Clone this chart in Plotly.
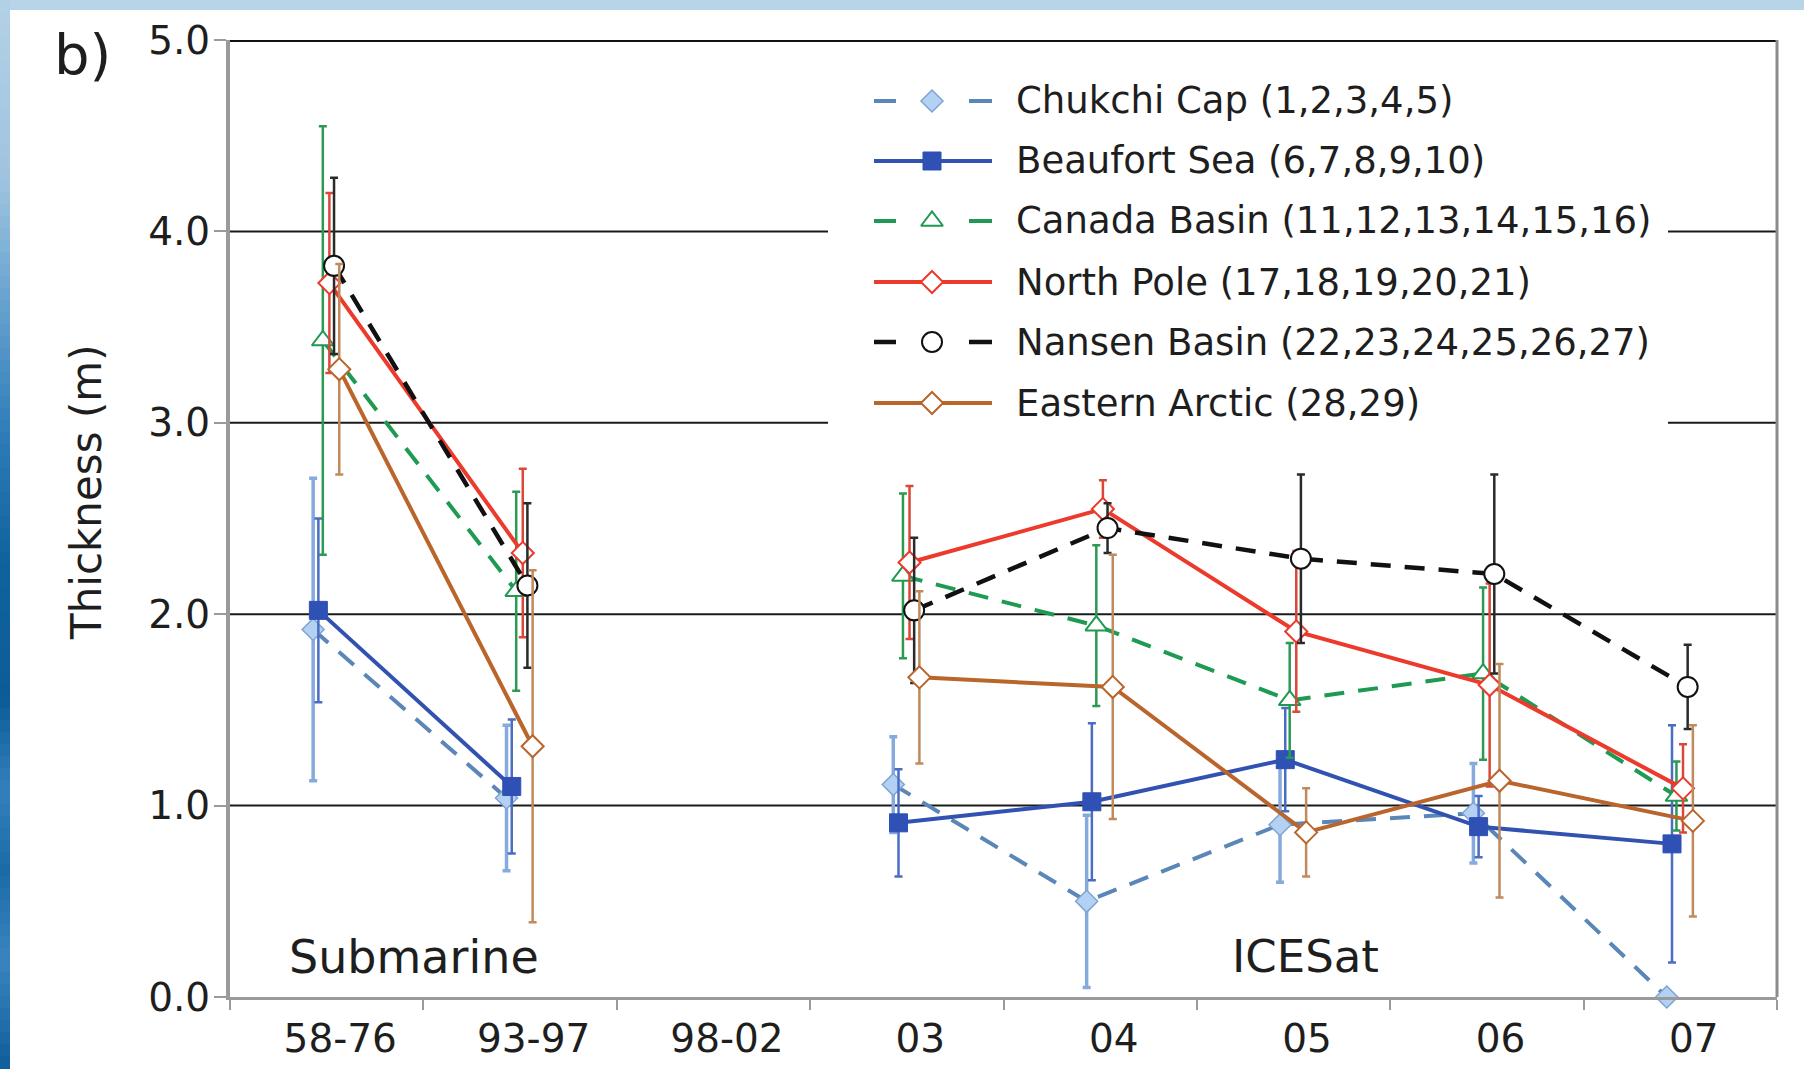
import plotly.graph_objects as go

# ---------------------------------------------------------------------------
# Mean sea-ice thickness by region (metres) with one-sigma spread
# ---------------------------------------------------------------------------
categories = ["58-76", "93-97", "98-02", "03", "04", "05", "06", "07"]

chukchi_cap = [1.92, 1.04, None, 1.11, 0.50, 0.90, 0.96, 0.00]
chukchi_cap_err = [0.79, 0.38, None, 0.25, 0.45, 0.30, 0.26, None]

beaufort_sea = [2.02, 1.10, None, 0.91, 1.02, 1.24, 0.89, 0.80]
beaufort_sea_err = [0.48, 0.35, None, 0.28, 0.41, 0.27, 0.16, 0.62]

canada_basin = [3.43, 2.12, None, 2.20, 1.94, 1.55, 1.69, 1.05]
canada_basin_err = [1.12, 0.52, None, 0.43, 0.42, 0.30, 0.45, 0.18]

north_pole = [3.73, 2.32, None, 2.27, 2.55, 1.91, 1.63, 1.09]
north_pole_err = [0.47, 0.44, None, 0.40, 0.15, 0.42, 0.53, 0.23]

nansen_basin = [3.82, 2.15, None, 2.02, 2.45, 2.29, 2.21, 1.62]
nansen_basin_err = [0.46, 0.43, None, 0.38, 0.13, 0.44, 0.52, 0.22]

eastern_arctic = [3.28, 1.31, None, 1.67, 1.62, 0.86, 1.13, 0.92]
eastern_arctic_err = [0.55, 0.92, None, 0.45, 0.69, 0.23, 0.61, 0.50]

series_labels = [
    "Chukchi Cap (1,2,3,4,5)",
    "Beaufort Sea (6,7,8,9,10)",
    "Canada Basin (11,12,13,14,15,16)",
    "North Pole (17,18,19,20,21)",
    "Nansen Basin (22,23,24,25,26,27)",
    "Eastern Arctic (28,29)",
]
y_ticks = [0, 1, 2, 3, 4, 5]

# ---------------------------------------------------------------------------
# Styling
# ---------------------------------------------------------------------------
FONT = "DejaVu Sans"
TXT = "#1e1e1e"
AXIS_GREY = "#9a9a9a"
W, H = 1804, 1069
ML, MR, MT, MB = 230, 27, 40, 72
PW, PH = W - ML - MR, H - MT - MB

DASH = "20px,14px"

styles = [
    dict(line=dict(color="#5a86b8", width=4, dash=DASH),
         marker=dict(symbol="diamond", size=17, color="#b3d1f2",
                     line=dict(color="#7fa3d2", width=1.5)),
         err=dict(color="#86aade", thickness=3.5), dashed=True, off=-0.070),
    dict(line=dict(color="#3152b0", width=4),
         marker=dict(symbol="square", size=18, color="#2f50b5",
                     line=dict(color="#2f50b5", width=1)),
         err=dict(color="#4a6dc2", thickness=2.5), dashed=False, off=-0.043),
    dict(line=dict(color="#1f9a52", width=4, dash=DASH),
         marker=dict(symbol="triangle-up", size=19, color="white",
                     line=dict(color="#1f9a52", width=2)),
         err=dict(color="#2c9a52", thickness=2.5), dashed=True, off=-0.020),
    dict(line=dict(color="#ec3a2c", width=4),
         marker=dict(symbol="diamond", size=17, color="white",
                     line=dict(color="#ec3a2c", width=2)),
         err=dict(color="#d9483a", thickness=2.5), dashed=False, off=0.014),
    dict(line=dict(color="#111111", width=4.5, dash=DASH),
         marker=dict(symbol="circle", size=20, color="white",
                     line=dict(color="#111111", width=2)),
         err=dict(color="#2a2a2a", thickness=2.5), dashed=True, off=0.038),
    dict(line=dict(color="#b9652c", width=4),
         marker=dict(symbol="diamond", size=17, color="white",
                     line=dict(color="#b9652c", width=2)),
         err=dict(color="#c08a5c", thickness=2.5), dashed=False, off=0.065),
]

values = [chukchi_cap, beaufort_sea, canada_basin,
          north_pole, nansen_basin, eastern_arctic]
errors = [chukchi_cap_err, beaufort_sea_err, canada_basin_err,
          north_pole_err, nansen_basin_err, eastern_arctic_err]


def fx(px):
    """pixel column -> paper fraction of the plot area"""
    return (px - ML) / PW


def fy(py):
    """pixel row -> paper fraction of the plot area"""
    return (MT + PH - py) / PH


fig = go.Figure()

# data series, dodged slightly within each period
for name, vals, errs, st in zip(series_labels, values, errors, styles):
    xs = [i + st["off"] for i in range(len(categories))]
    fig.add_trace(go.Scatter(
        x=xs, y=vals, name=name, mode="lines+markers",
        line=st["line"], marker=st["marker"], connectgaps=False,
        error_y=dict(type="data", array=errs, visible=True, width=4,
                     color=st["err"]["color"],
                     thickness=st["err"]["thickness"]),
        cliponaxis=False, showlegend=False,
    ))

# ---------------------------------------------------------------------------
# Hand-built key on an overlay axis spanning the plot area (0..1)
# ---------------------------------------------------------------------------
row_px = [101, 161, 221, 282, 342, 403]
seg_l, seg_r, mark_x = fx(874), fx(992), fx(932)
dash_a = (fx(874), fx(896))
dash_b = (fx(969), fx(992))
for name, st, rp in zip(series_labels, styles, row_px):
    yy = fy(rp)
    solid = dict(color=st["line"]["color"], width=st["line"]["width"])
    if st["dashed"]:
        xs = [dash_a[0], dash_a[1], None, dash_b[0], dash_b[1]]
        ys = [yy, yy, None, yy, yy]
    else:
        xs = [seg_l, seg_r]
        ys = [yy, yy]
    fig.add_trace(go.Scatter(x=xs, y=ys, mode="lines", line=solid,
                             xaxis="x2", yaxis="y2", showlegend=False,
                             hoverinfo="skip"))
    fig.add_trace(go.Scatter(x=[mark_x], y=[yy], mode="markers",
                             marker=st["marker"], xaxis="x2", yaxis="y2",
                             showlegend=False, hoverinfo="skip"))

shapes = []

# slide frame: light strip along the top, blue gradient down the left edge
shapes.append(dict(type="rect", xref="paper", yref="paper", layer="below",
                   x0=fx(0), x1=fx(W), y0=fy(0), y1=fy(10),
                   fillcolor="#b7d4e8", line=dict(width=0)))


def lerp(c1, c2, t):
    a = [int(c1[i:i + 2], 16) for i in (1, 3, 5)]
    b = [int(c2[i:i + 2], 16) for i in (1, 3, 5)]
    return "#" + "".join(f"{round(a[k] + (b[k] - a[k]) * t):02x}" for k in range(3))


stops = [(0, "#b3d1e7"), (180, "#9fc4e0"), (320, "#5f9dcc"), (440, "#2c7bb7"),
         (560, "#10639f"), (700, "#0c5c99"), (790, "#3381bc"), (870, "#1a6ba8"),
         (960, "#3a85bf"), (1069, "#0d5d9b")]
step = 12
for y0 in range(0, H, step):
    ym = y0 + step / 2
    for (a, ca), (b, cb) in zip(stops[:-1], stops[1:]):
        if a <= ym <= b:
            col = lerp(ca, cb, (ym - a) / (b - a))
            break
    shapes.append(dict(type="rect", xref="paper", yref="paper", layer="below",
                       x0=fx(0), x1=fx(10), y0=fy(min(y0 + step + 1, H)), y1=fy(y0),
                       fillcolor=col, line=dict(width=0)))

# horizontal gridlines; the upper two stop short of the key panel
key_l, key_r = fx(828), fx(1668)
for g in y_ticks[1:-1]:
    spans = [(0, 1)] if g < 3 else [(0, key_l), (key_r, 1)]
    for a, b in spans:
        shapes.append(dict(type="line", xref="paper", yref="y", layer="below",
                           x0=a, x1=b, y0=g, y1=g,
                           line=dict(color="#1a1a1a", width=2)))

# heavy top frame line and grey right frame
shapes.append(dict(type="line", xref="paper", yref="y", x0=0, x1=1, y0=5, y1=5,
                   line=dict(color="#111111", width=4), layer="above"))
shapes.append(dict(type="line", xref="paper", yref="paper", x0=1, x1=1,
                   y0=0, y1=1, line=dict(color="#8c8c8c", width=3), layer="above"))

annotations = [
    dict(text="b)", xref="paper", yref="paper", x=fx(82), y=fy(55),
         showarrow=False, font=dict(family=FONT, size=56, color=TXT),
         xanchor="center", yanchor="middle"),
    dict(text="Thickness (m)", xref="paper", yref="paper", x=fx(87), y=fy(492),
         showarrow=False, textangle=-90,
         font=dict(family=FONT, size=42, color=TXT),
         xanchor="center", yanchor="middle"),
    dict(text="Submarine", xref="x", yref="y", x=0.45, y=0.21, showarrow=False,
         font=dict(family=FONT, size=46, color=TXT),
         xanchor="center", yanchor="middle"),
    dict(text="ICESat", xref="x", yref="y", x=5.06, y=0.21, showarrow=False,
         font=dict(family=FONT, size=45, color=TXT),
         xanchor="center", yanchor="middle"),
]
for name, rp in zip(series_labels, row_px):
    annotations.append(dict(text=name, xref="paper", yref="paper",
                            x=fx(1014), y=fy(rp), showarrow=False,
                            xanchor="left", yanchor="middle",
                            font=dict(family=FONT, size=37, color=TXT)))

fig.update_layout(
    width=W, height=H, autosize=False,
    margin=dict(l=ML, r=MR, t=MT, b=MB, pad=0, autoexpand=False),
    paper_bgcolor="white", plot_bgcolor="white",
    font=dict(family=FONT, color=TXT),
    showlegend=False,
    xaxis=dict(
        range=[-0.5, len(categories) - 0.5], automargin=False,
        tickmode="array",
        tickvals=[i + 0.07 for i in range(len(categories))],
        ticktext=categories,
        ticks="", showgrid=False, zeroline=False,
        showline=True, linecolor=AXIS_GREY, linewidth=3,
        tickfont=dict(family=FONT, size=39, color=TXT),
        ticklabelstandoff=5,
        minor=dict(tickmode="array",
                   tickvals=[k - 0.5 for k in range(len(categories) + 1)],
                   ticks="outside", ticklen=10, tickwidth=2,
                   tickcolor=AXIS_GREY, showgrid=False),
    ),
    yaxis=dict(
        range=[0, 5], automargin=False,
        tickmode="array", tickvals=y_ticks,
        ticktext=[f"{v:.1f}" for v in y_ticks],
        ticks="outside", ticklen=12, tickwidth=2, tickcolor=AXIS_GREY,
        showline=True, linecolor=AXIS_GREY, linewidth=4,
        showgrid=False, zeroline=False,
        tickfont=dict(family=FONT, size=39, color=TXT),
        ticklabelstandoff=-4,
    ),
    xaxis2=dict(overlaying="x", anchor="y2", range=[0, 1], visible=False),
    yaxis2=dict(overlaying="y", anchor="x2", range=[0, 1], visible=False),
    shapes=shapes,
    annotations=annotations,
)

fig.write_html("out.html")
